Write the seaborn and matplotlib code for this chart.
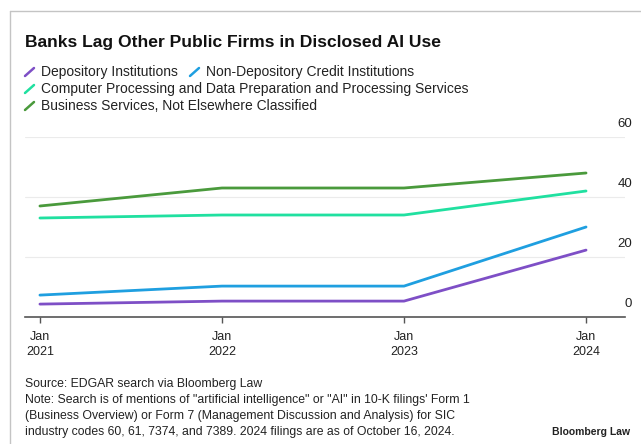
import matplotlib
matplotlib.use("Agg")
import matplotlib.pyplot as plt
from matplotlib.lines import Line2D
from matplotlib import transforms
import seaborn as sns
import pandas as pd

# Share of public filers mentioning AI, by SIC industry group
years = [2021, 2022, 2023, 2024]
depository = [4.3, 5.3, 5.3, 22.3]
non_depository = [7.3, 10.3, 10.3, 30.0]
computer_processing = [33.0, 34.0, 34.0, 42.0]
business_services = [37.0, 43.0, 43.0, 48.0]

series_names = [
    "Depository Institutions",
    "Non-Depository Credit Institutions",
    "Computer Processing and Data Preparation and Processing Services",
    "Business Services, Not Elsewhere Classified",
]
series_values = [depository, non_depository, computer_processing, business_services]
colors = ["#7e4fc6", "#1f9fe0", "#20e0a0", "#4a9a3c"]

y_ticks = [0, 20, 40, 60]
x_tick_labels = ["Jan\n2021", "Jan\n2022", "Jan\n2023", "Jan\n2024"]

df = pd.DataFrame(
    [(y, v, name) for name, vals in zip(series_names, series_values) for y, v in zip(years, vals)],
    columns=["year", "value", "industry"],
)

sns.set_theme(style="white")
plt.rcParams["font.family"] = ["Liberation Sans", "DejaVu Sans"]

W, H = 641, 444
fig = plt.figure(figsize=(W / 100, H / 100), dpi=100)


def fx(px):
    return px / W


def fy(py):
    return 1 - py / H


ax = fig.add_axes([fx(25), fy(317), fx(625) - fx(25), fy(137) - fy(317)])

# light horizontal gridlines
for t in y_ticks[1:]:
    ax.axhline(t, color="#ebebeb", lw=0.8, zorder=0)

sns.lineplot(
    data=df, x="year", y="value", hue="industry", hue_order=series_names,
    palette=dict(zip(series_names, colors)), lw=2.0, legend=False, ax=ax,
)

ax.set_xlim(2020.918, 2024.214)
ax.set_ylim(0, 60)
ax.set_xlabel("")
ax.set_ylabel("")
for s in ["top", "right", "left"]:
    ax.spines[s].set_visible(False)
ax.spines["bottom"].set_color("#555555")
ax.spines["bottom"].set_linewidth(1.2)
ax.spines["bottom"].set_zorder(5)

ax.set_xticks(years)
ax.set_xticklabels(x_tick_labels, fontsize=9, color="#222222", linespacing=1.4)
ax.tick_params(axis="x", direction="out", length=4, width=1, color="#555555", pad=6, bottom=True)
ax.set_yticks([])

# value labels on the right, sitting above their gridlines
label_tr = transforms.offset_copy(ax.get_yaxis_transform(), fig=fig, x=0, y=13, units="dots")
for t in y_ticks:
    ax.text(1.012, t, f"{t}", transform=label_tr, ha="right", va="center",
            fontsize=9.5, color="#222222", clip_on=False)

# outer frame
fig.add_artist(Line2D([fx(10), 1], [fy(11), fy(11)], color="#c4c4c4", lw=1))
fig.add_artist(Line2D([fx(10), fx(10)], [fy(11), 0], color="#c4c4c4", lw=1))

fig.text(fx(25), fy(43), "Banks Lag Other Public Firms in Disclosed AI Use",
         fontsize=12.6, fontweight="bold", color="#111111", va="center", ha="left")

# legend with slash markers
legend_items = [
    (25, 72, 0), (190, 72, 1),
    (25, 89, 2),
    (25, 106, 3),
]
for x0, y0, i in legend_items:
    fig.add_artist(Line2D([fx(x0), fx(x0 + 9)], [fy(y0 + 4), fy(y0 - 4)],
                          color=colors[i], lw=1.8, solid_capstyle="round"))
    fig.text(fx(x0 + 16), fy(y0), series_names[i], fontsize=10, color="#222222",
             va="center", ha="left")

footer = [
    "Source: EDGAR search via Bloomberg Law",
    "Note: Search is of mentions of \"artificial intelligence\" or \"AI\" in 10-K filings' Form 1",
    "(Business Overview) or Form 7 (Management Discussion and Analysis) for SIC",
    "industry codes 60, 61, 7374, and 7389. 2024 filings are as of October 16, 2024.",
]
for k, line in enumerate(footer):
    fig.text(fx(25), fy(384 + 16 * k), line, fontsize=8.8, color="#222222", va="center", ha="left")

fig.text(fx(630), fy(432), "Bloomberg Law", fontsize=7.5, fontweight="bold",
         color="#222222", va="center", ha="right")

fig.savefig("out.png", dpi=100, facecolor="white")
